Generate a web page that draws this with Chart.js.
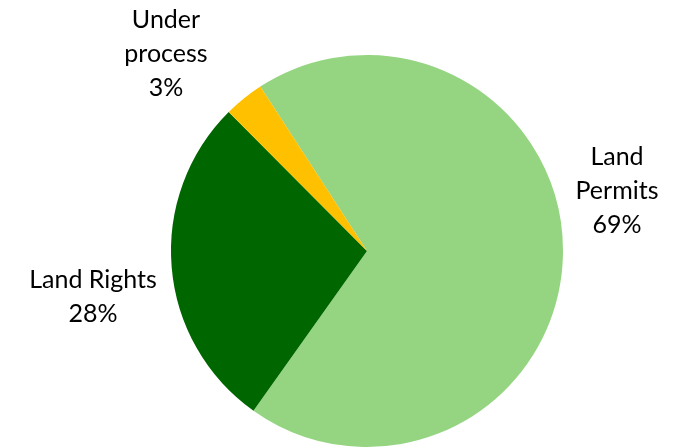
<!DOCTYPE html>
<html>
<head>
<meta charset="utf-8">
<script src="https://cdn.jsdelivr.net/npm/chart.js@4/dist/chart.umd.min.js"></script>
<style>
  html, body { margin: 0; padding: 0; background: #fff; }
  #wrap { width: 679px; height: 448px; }
</style>
</head>
<body>
<div id="wrap"><canvas id="c" width="679" height="448"></canvas></div>
<script>
// data
const labels = ['Land Permits', 'Land Rights', 'Under process'];
const labelLines = [['Land', 'Permits'], ['Land Rights'], ['Under', 'process']];
const values = [69.0, 27.7, 3.3];
const colors = ['#95d582', '#006600', '#ffc000'];

// where each text block sits (centre x, y of first line)
const labelPos = [[617, 157], [93, 280], [166, 20]];
const lineGap = 34;

const outsideLabels = {
  id: 'outsideLabels',
  afterDraw(chart) {
    const ctx = chart.ctx;
    const total = values.reduce((a, b) => a + b, 0);
    ctx.save();
    ctx.fillStyle = '#000';
    ctx.font = '25px Lato';
    ctx.textAlign = 'center';
    ctx.textBaseline = 'middle';
    labels.forEach(function (l, i) {
      const lines = labelLines[i].concat([Math.round(values[i] * 100 / total) + '%']);
      lines.forEach(function (t, j) {
        ctx.fillText(t, labelPos[i][0], labelPos[i][1] + j * lineGap);
      });
    });
    ctx.restore();
  }
};

new Chart(document.getElementById('c'), {
  type: 'pie',
  data: {
    labels: labels,
    datasets: [{
      data: values,
      backgroundColor: colors,
      borderWidth: 0
    }]
  },
  options: {
    responsive: false,
    animation: false,
    rotation: -33,
    layout: { padding: { left: 171, right: 116, top: 55, bottom: 1 } },
    plugins: {
      legend: { display: false },
      tooltip: { enabled: false }
    }
  },
  plugins: [outsideLabels]
});
</script>
</body>
</html>
